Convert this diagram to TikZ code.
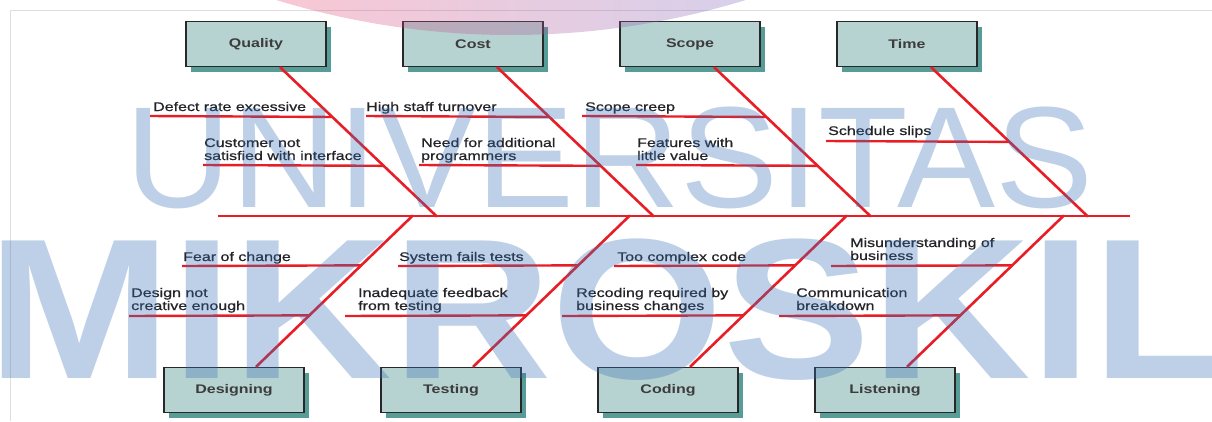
\documentclass[tikz,border=0pt]{standalone}
\usepackage{fontspec}
\setmainfont{Liberation Sans}[FakeStretch=1.28]
\newfontfamily\lblfont{Liberation Sans}[FakeStretch=1.28, FakeBold=0.8]
\newfontfamily\wmA{Liberation Sans}[FakeStretch=1.02]
\newfontfamily\wmB{Liberation Sans}[FakeStretch=1.105]
\usetikzlibrary{shadows,calc}
\definecolor{fbred}{RGB}{232,30,38}
\definecolor{boxfill}{RGB}{182,211,209}
\definecolor{boxshadow}{RGB}{88,156,151}
\definecolor{boxline}{RGB}{40,40,40}
\definecolor{boxtext}{RGB}{60,60,60}
\definecolor{wmblue}{RGB}{58,111,181}
\definecolor{framegray}{RGB}{222,222,222}
\definecolor{txt}{RGB}{35,35,40}
\definecolor{arcpink}{RGB}{235,70,110}
\definecolor{arclav}{RGB}{120,100,190}
\begin{document}
\begin{tikzpicture}[x=1pt,y=-1pt,
  catbox/.style={draw=boxline, line width=1.3pt, fill=boxfill,
    minimum width=140pt, minimum height=45pt, inner sep=0pt,
    font=\fontsize{12.5}{13}\selectfont\bfseries, text=boxtext,
    drop shadow={shadow xshift=5pt, shadow yshift=-5pt, fill=boxshadow, opacity=1}},
  bone/.style={draw=fbred, line width=2.6pt},
  twig/.style={draw=fbred, line width=2.4pt},
  lbl/.style={anchor=base west, align=left, inner sep=0pt,
    font=\lblfont\fontsize{12.5}{13}\selectfont, text=txt},
  wm/.style={anchor=base west, inner sep=0pt, text=wmblue, text opacity=0.33},
  frameline/.style={draw=framegray, line width=1pt}]
\useasboundingbox (0,0) rectangle (1212,421);
% frame
\coordinate (f1) at (10,421); \coordinate (f2) at (10,10); \coordinate (f3) at (1212,10);
\draw[frameline] (f1) -- (f2) -- (f3);

% category boxes
\node[catbox] (Q) at (256,44) {Quality};
\node[catbox] (C) at (473,44) {Cost};
\node[catbox] (S) at (690,44) {Scope};
\node[catbox] (T) at (907,44) {Time};
\node[catbox] (D) at (234,390) {Designing};
\node[catbox] (E) at (451,390) {Testing};
\node[catbox] (K) at (668,390) {Coding};
\node[catbox] (L) at (885,390) {Listening};

% spine
\coordinate (spL) at (218,216); \coordinate (spR) at (1130,216);
\draw[bone] (spL) -- (spR);

% top bones
\foreach \b in {Q,C,S,T}{
  \coordinate (\b s) at ($(\b.south)+(24,0)$);
  \coordinate (\b e) at ($(\b s)+(157,149.5)$);
  \draw[bone] (\b s) -- (\b e);
}
% bottom bones
\foreach \b in {D,E,K,L}{
  \coordinate (\b s) at ($(\b.north)+(22,0)$);
  \coordinate (\b e) at ($(\b s)+(157,-151.5)$);
  \draw[bone] (\b s) -- (\b e);
}

% top twigs
\coordinate (q1) at (150,116); \draw[twig] (q1) -- ($(Qs)!1/3!(Qe)$);
\coordinate (q2) at (203,165); \draw[twig] (q2) -- ($(Qs)!0.66!(Qe)$);
\coordinate (c1) at (366,116); \draw[twig] (c1) -- ($(Cs)!1/3!(Ce)$);
\coordinate (c2) at (419,165); \draw[twig] (c2) -- ($(Cs)!0.66!(Ce)$);
\coordinate (s1) at (582,116); \draw[twig] (s1) -- ($(Ss)!1/3!(Se)$);
\coordinate (s2) at (636,165); \draw[twig] (s2) -- ($(Ss)!0.66!(Se)$);
\coordinate (t1) at (826,141); \draw[twig] (t1) -- ($(Ts)!0.5!(Te)$);
% bottom twigs
\coordinate (d1) at (182,266); \draw[twig] (d1) -- ($(Ds)!0.67!(De)$);
\coordinate (d2) at (129,316); \draw[twig] (d2) -- ($(Ds)!0.34!(De)$);
\coordinate (e1) at (398,266); \draw[twig] (e1) -- ($(Es)!0.67!(Ee)$);
\coordinate (e2) at (345,316); \draw[twig] (e2) -- ($(Es)!0.34!(Ee)$);
\coordinate (k1) at (614,266); \draw[twig] (k1) -- ($(Ks)!0.67!(Ke)$);
\coordinate (k2) at (562,316); \draw[twig] (k2) -- ($(Ks)!0.34!(Ke)$);
\coordinate (l1) at (831,266); \draw[twig] (l1) -- ($(Ls)!0.67!(Le)$);
\coordinate (l2) at (779,316); \draw[twig] (l2) -- ($(Ls)!0.34!(Le)$);

% labels (base = baseline of last line)
\node[lbl] (tq1) at (153,111) {Defect rate excessive};
\node[lbl] (tq2) at (204,160) {Customer not\\satisfied with interface};
\node[lbl] (tc1) at (366,111) {High staff turnover};
\node[lbl] (tc2) at (421,160) {Need for additional\\programmers};
\node[lbl] (ts1) at (585,111) {Scope creep};
\node[lbl] (ts2) at (637,160) {Features with\\little value};
\node[lbl] (tt1) at (828,135) {Schedule slips};
\node[lbl] (td1) at (183,261) {Fear of change};
\node[lbl] (td2) at (131,310) {Design not\\creative enough};
\node[lbl] (te1) at (399,261) {System fails tests};
\node[lbl] (te2) at (358,310) {Inadequate feedback\\from testing};
\node[lbl] (tk1) at (617,261) {Too complex code};
\node[lbl] (tk2) at (576,310) {Recoding required by\\business changes};
\node[lbl] (tl1) at (850,260) {Misunderstanding of\\business};
\node[lbl] (tl2) at (796,310) {Communication\\breakdown};

% watermark
\begin{scope}
  \clip (0,0) rectangle (1212,421);
  \node[wm, font=\wmA\fontsize{144}{144}\selectfont] (wmu) at (125,207) {UNIVERSITAS};
  \node[wm, font=\wmB\bfseries\fontsize{200}{200}\selectfont] (wmm) at (-13,378) {MIKROSKIL};
  \clip (511,-765) circle[radius=800pt];
  \shade[left color=arcpink, right color=arclav, fill opacity=0.3] (270,-1) rectangle (760,45);
\end{scope}
\end{tikzpicture}
\end{document}
